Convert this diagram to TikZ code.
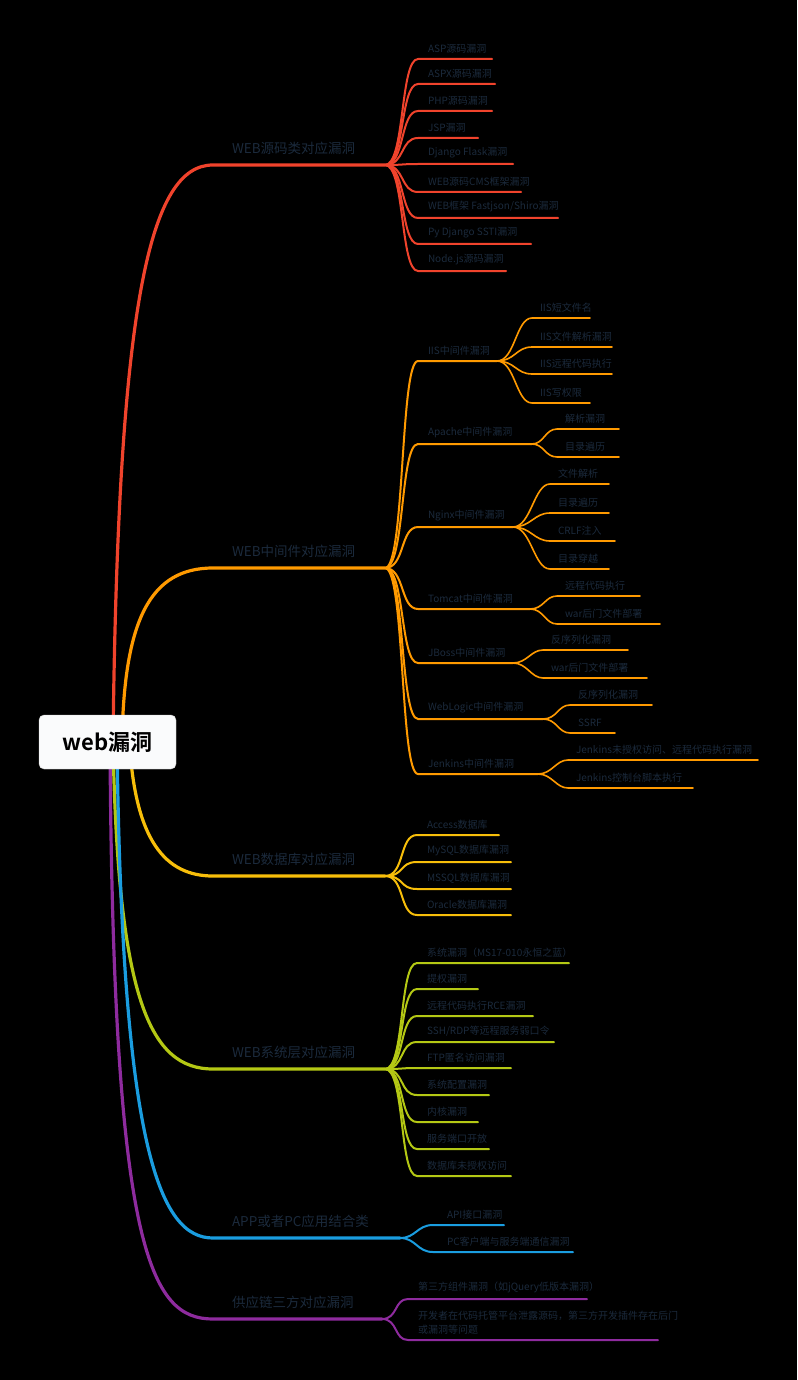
\documentclass[tikz,border=0pt]{standalone}
\usepackage{fontspec}
\setmainfont{Noto Sans CJK SC}[BoldFont={Noto Sans CJK SC Bold}]
\usepackage{tikz}
\usetikzlibrary{calc}
\definecolor{rouge}{HTML}{F0432C}
\definecolor{orange}{HTML}{FF9A00}
\definecolor{jaune}{HTML}{F7BE0A}
\definecolor{olive}{HTML}{B4C814}
\definecolor{bleu}{HTML}{1A9DE0}
\definecolor{violet}{HTML}{8E2B9E}
\definecolor{encre}{HTML}{1B2A3C}
\definecolor{bordure}{HTML}{CFCFCF}
\definecolor{fondblanc}{HTML}{FAFBFC}
\tikzset{
  racine/.style={rectangle, rounded corners=5pt, draw=bordure, fill=fondblanc,
    text=black, font=\fontsize{22}{26}\selectfont\bfseries,
    minimum width=137pt, minimum height=54pt},
  theme/.style={anchor=south west, inner xsep=19pt, inner ysep=10pt,
    outer sep=0pt, text=encre, font=\fontsize{13.5}{16}\selectfont},
  sujet/.style={anchor=south west, inner xsep=10pt, inner ysep=6pt,
    outer sep=0pt, text=encre, font=\fontsize{10}{14}\selectfont, align=left},
  branche/.style={line width=3.2pt, line cap=round},
  rameau/.style={line width=2pt, line cap=round},
  brindille/.style={line width=1.6pt, line cap=round}
}
\begin{document}
\begin{tikzpicture}[x=1pt, y=-1pt]
  \useasboundingbox (0,0) rectangle (797,1380);
  \fill[black] (0,0) rectangle (797,1380);
  \coordinate (centre) at (107.5,742);

  % themes
  \node[theme] (t1) at (213,165) {WEB源码类对应漏洞}; \coordinate (t1-e) at (385,165);
  \node[theme] (t2) at (213,568) {WEB中间件对应漏洞}; \coordinate (t2-e) at (385,568);
  \node[theme] (t3) at (213,876) {WEB数据库对应漏洞}; \coordinate (t3-e) at (385,876);
  \node[theme] (t4) at (213,1069) {WEB系统层对应漏洞}; \coordinate (t4-e) at (385,1069);
  \node[theme] (t5) at (213,1238) {APP或者PC应用结合类}; \coordinate (t5-e) at (400,1238);
  \node[theme] (t6) at (213,1319) {供应链三方对应漏洞}; \coordinate (t6-e) at (382,1319);

  % source
  \node[sujet] (a1) at (418,59) {ASP源码漏洞}; \coordinate (a1-e) at (492,59);
  \node[sujet] (a2) at (418,84) {ASPX源码漏洞}; \coordinate (a2-e) at (495,84);
  \node[sujet] (a3) at (418,111) {PHP源码漏洞}; \coordinate (a3-e) at (492,111);
  \node[sujet] (a4) at (418,138) {JSP漏洞}; \coordinate (a4-e) at (478,138);
  \node[sujet] (a5) at (418,164) {Django Flask漏洞}; \coordinate (a5-e) at (513,164);
  \node[sujet] (a6) at (418,192) {WEB源码CMS框架漏洞}; \coordinate (a6-e) at (521,192);
  \node[sujet] (a7) at (418,218) {WEB框架 Fastjson/Shiro漏洞}; \coordinate (a7-e) at (558,218);
  \node[sujet] (a8) at (418,244) {Py Django SSTI漏洞}; \coordinate (a8-e) at (531,244);
  \node[sujet] (a9) at (418,271) {Node.js源码漏洞}; \coordinate (a9-e) at (506,271);

  % middleware
  \node[sujet] (b1) at (418,361) {IIS中间件漏洞}; \coordinate (b1-e) at (497,361);
  \node[sujet] (b2) at (418,444) {Apache中间件漏洞}; \coordinate (b2-e) at (532,444);
  \node[sujet] (b3) at (418,527) {Nginx中间件漏洞}; \coordinate (b3-e) at (513,527);
  \node[sujet] (b4) at (418,609) {Tomcat中间件漏洞}; \coordinate (b4-e) at (530,609);
  \node[sujet] (b5) at (418,663) {JBoss中间件漏洞}; \coordinate (b5-e) at (513,663);
  \node[sujet] (b6) at (418,719) {WebLogic中间件漏洞}; \coordinate (b6-e) at (543,719);
  \node[sujet] (b7) at (418,774) {Jenkins中间件漏洞}; \coordinate (b7-e) at (538,774);

  \node[sujet, inner xsep=8pt] (b11) at (532,318) {IIS短文件名}; \coordinate (b11-e) at (590,318);
  \node[sujet, inner xsep=8pt] (b12) at (532,347) {IIS文件解析漏洞}; \coordinate (b12-e) at (612,347);
  \node[sujet, inner xsep=8pt] (b13) at (532,374) {IIS远程代码执行}; \coordinate (b13-e) at (612,374);
  \node[sujet, inner xsep=8pt] (b14) at (532,403) {IIS写权限}; \coordinate (b14-e) at (590,403);
  \node[sujet, inner xsep=8pt] (b21) at (557,429) {解析漏洞}; \coordinate (b21-e) at (619,429);
  \node[sujet, inner xsep=8pt] (b22) at (557,457) {目录遍历}; \coordinate (b22-e) at (619,457);
  \node[sujet, inner xsep=8pt] (b31) at (550,484) {文件解析}; \coordinate (b31-e) at (609,484);
  \node[sujet, inner xsep=8pt] (b32) at (550,513) {目录遍历}; \coordinate (b32-e) at (609,513);
  \node[sujet, inner xsep=8pt] (b33) at (550,541) {CRLF注入}; \coordinate (b33-e) at (615,541);
  \node[sujet, inner xsep=8pt] (b34) at (550,569) {目录穿越}; \coordinate (b34-e) at (609,569);
  \node[sujet, inner xsep=8pt] (b41) at (557,596) {远程代码执行}; \coordinate (b41-e) at (640,596);
  \node[sujet, inner xsep=8pt] (b42) at (557,624) {war后门文件部署}; \coordinate (b42-e) at (660,624);
  \node[sujet, inner xsep=8pt] (b51) at (543,650) {反序列化漏洞}; \coordinate (b51-e) at (628,650);
  \node[sujet, inner xsep=8pt] (b52) at (543,678) {war后门文件部署}; \coordinate (b52-e) at (647,678);
  \node[sujet, inner xsep=8pt] (b61) at (570,705) {反序列化漏洞}; \coordinate (b61-e) at (652,705);
  \node[sujet, inner xsep=8pt] (b62) at (570,733) {SSRF}; \coordinate (b62-e) at (615,733);
  \node[sujet, inner xsep=8pt] (b71) at (568,760) {Jenkins未授权访问、远程代码执行漏洞}; \coordinate (b71-e) at (758,760);
  \node[sujet, inner xsep=8pt] (b72) at (568,788) {Jenkins控制台脚本执行}; \coordinate (b72-e) at (693,788);

  % database
  \node[sujet] (c1) at (417,835) {Access数据库}; \coordinate (c1-e) at (499,835);
  \node[sujet] (c2) at (417,862) {MySQL数据库漏洞}; \coordinate (c2-e) at (511,862);
  \node[sujet] (c3) at (417,889) {MSSQL数据库漏洞}; \coordinate (c3-e) at (511,889);
  \node[sujet] (c4) at (417,915) {Oracle数据库漏洞}; \coordinate (c4-e) at (511,915);

  % system
  \node[sujet] (d1) at (417,963) {系统漏洞（MS17-010永恒之蓝）}; \coordinate (d1-e) at (569,963);
  \node[sujet] (d2) at (417,989) {提权漏洞}; \coordinate (d2-e) at (478,989);
  \node[sujet] (d3) at (417,1016) {远程代码执行RCE漏洞}; \coordinate (d3-e) at (533,1016);
  \node[sujet] (d4) at (417,1042) {SSH/RDP等远程服务弱口令}; \coordinate (d4-e) at (554,1042);
  \node[sujet] (d5) at (417,1068) {FTP匿名访问漏洞}; \coordinate (d5-e) at (511,1068);
  \node[sujet] (d6) at (417,1095) {系统配置漏洞}; \coordinate (d6-e) at (489,1095);
  \node[sujet] (d7) at (417,1122) {内核漏洞}; \coordinate (d7-e) at (478,1122);
  \node[sujet] (d8) at (417,1149) {服务端口开放}; \coordinate (d8-e) at (489,1149);
  \node[sujet] (d9) at (417,1176) {数据库未授权访问}; \coordinate (d9-e) at (511,1176);

  % app / pc
  \node[sujet, inner xsep=14pt] (e1) at (433,1225) {API接口漏洞}; \coordinate (e1-e) at (504,1225);
  \node[sujet, inner xsep=14pt] (e2) at (433,1252) {PC客户端与服务端通信漏洞}; \coordinate (e2-e) at (573,1252);

  % supply chain
  \node[sujet] (f1) at (408,1299) {第三方组件漏洞（如jQuery低版本漏洞）}; \coordinate (f1-e) at (587,1299);
  \node[sujet] (f2) at (408,1340) {开发者在代码托管平台泄露源码，第三方开发插件存在后门\\或漏洞等问题}; \coordinate (f2-e) at (658,1340);

  % branches
  \draw[branche, rouge] ([xshift=5.5pt]centre) .. controls (118,300) and (150,165) .. (t1.south west) -- (t1-e);
  \draw[branche, orange] ([xshift=14.5pt]centre) .. controls (124,620) and (150,568) .. (t2.south west) -- (t2-e);
  \draw[branche, jaune] ([xshift=22pt]centre) .. controls (135,840) and (165,876) .. (t3.south west) -- (t3-e);
  \draw[branche, olive] ([xshift=5.5pt]centre) .. controls (118,1000) and (150,1069) .. (t4.south west) -- (t4-e);
  \draw[branche, bleu] ([xshift=9.5pt]centre) .. controls (122,1150) and (160,1238) .. (t5.south west) -- (t5-e);
  \draw[branche, violet] ([xshift=2.5pt]centre) .. controls (113,1250) and (150,1319) .. (t6.south west) -- (t6-e);

  \foreach \i in {1,...,9}
    \draw[rameau, rouge] (t1-e) .. controls +(20,0) and +(-18,0) .. (a\i.south west) -- (a\i-e);
  \foreach \i in {1,...,7}
    \draw[rameau, orange] (t2-e) .. controls +(20,0) and +(-18,0) .. (b\i.south west) -- (b\i-e);
  \foreach \i in {1,...,4}
    \draw[brindille, orange] (b1-e) .. controls +(18,0) and +(-16,0) .. (b1\i.south west) -- (b1\i-e);
  \foreach \i in {1,2}
    \draw[brindille, orange] (b2-e) .. controls +(12,0) and +(-12,0) .. (b2\i.south west) -- (b2\i-e);
  \foreach \i in {1,...,4}
    \draw[brindille, orange] (b3-e) .. controls +(18,0) and +(-16,0) .. (b3\i.south west) -- (b3\i-e);
  \foreach \k in {4,5,6,7}
    \foreach \i in {1,2}
      \draw[brindille, orange] (b\k-e) .. controls +(14,0) and +(-12,0) .. (b\k\i.south west) -- (b\k\i-e);
  \foreach \i in {1,...,4}
    \draw[rameau, jaune] (t3-e) .. controls +(20,0) and +(-18,0) .. (c\i.south west) -- (c\i-e);
  \foreach \i in {1,...,9}
    \draw[rameau, olive] (t4-e) .. controls +(20,0) and +(-18,0) .. (d\i.south west) -- (d\i-e);
  \foreach \i in {1,2}
    \draw[rameau, bleu] (t5-e) .. controls +(16,0) and +(-16,0) .. (e\i.south west) -- (e\i-e);
  \foreach \i in {1,2}
    \draw[rameau, violet] (t6-e) .. controls +(16,0) and +(-14,0) .. (f\i.south west) -- (f\i-e);

  \node[racine] (racine) at (centre) {web漏洞};
\end{tikzpicture}
\end{document}
